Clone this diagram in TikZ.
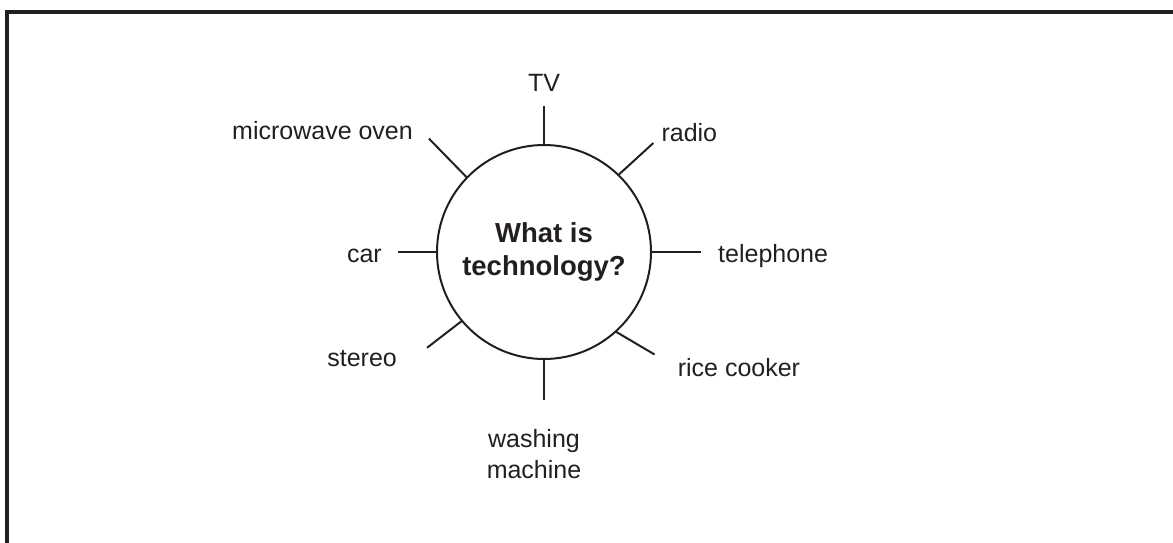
\documentclass[tikz,border=0pt]{standalone}
\usepackage{fontspec}
\setmainfont{Liberation Sans}
\usepackage{xcolor}
\usetikzlibrary{positioning,calc}
\definecolor{ink}{HTML}{231F20}
\tikzset{
  hub/.style={draw=ink, circle, line width=2pt, minimum size=214pt, inner sep=0pt,
    outer sep=0pt, align=center, text=ink, font=\fontsize{27.5}{33}\selectfont\bfseries},
  item/.style={inner sep=0pt, text=ink, align=center, font=\fontsize{25}{31}\selectfont},
  spoke/.style={draw=ink, line width=2pt},
  frame/.style={draw=ink, line width=3.5pt}
}

\begin{document}
\begin{tikzpicture}[x=1pt,y=-1pt]
  \useasboundingbox (0,0) rectangle (1173,543);
  % open frame, top and left only
  \draw[frame] (7,543) -- (7,12) -- (1173,12);

  % centre question
  \node[hub] (hub) at (544,252) {What is\\technology?};

  % spoke ends
  \coordinate (tvEnd)    at ($(hub.90)+(0,-39)$);
  \coordinate (radioEnd) at ($(hub.46)+(35,-32)$);
  \coordinate (telEnd)   at ($(hub.0)+(50,0)$);
  \coordinate (riceEnd)  at ($(hub.-48)+(39,23)$);
  \coordinate (washEnd)  at ($(hub.270)+(0,41)$);
  \coordinate (stereoEnd) at ($(hub.220)+(-35,27)$);
  \coordinate (carEnd)   at ($(hub.180)+(-39,0)$);
  \coordinate (microEnd) at ($(hub.136)+(-38,-39)$);

  \draw[spoke] (hub.90) -- (tvEnd);
  \draw[spoke] (hub.46) -- (radioEnd);
  \draw[spoke] (hub.0) -- (telEnd);
  \draw[spoke] (hub.-48) -- (riceEnd);
  \draw[spoke] (hub.270) -- (washEnd);
  \draw[spoke] (hub.220) -- (stereoEnd);
  \draw[spoke] (hub.180) -- (carEnd);
  \draw[spoke] (hub.136) -- (microEnd);

  % examples
  \node[item, anchor=base] (tv) at ([yshift=14pt]tvEnd) {TV};
  \node[item, anchor=base west] (radio) at ([xshift=8pt,yshift=2pt]radioEnd) {radio};
  \node[item, anchor=base west] (tel) at ([xshift=17pt,yshift=-10pt]telEnd) {telephone};
  \node[item, anchor=base west] (rice) at ([xshift=23pt,yshift=-22pt]riceEnd) {rice cooker};
  \node[item, anchor=north] (wash) at ([xshift=-10pt,yshift=-29pt]washEnd) {washing\\machine};
  \node[item, anchor=base east] (stereo) at ([xshift=-30pt,yshift=-19pt]stereoEnd) {stereo};
  \node[item, anchor=base east] (car) at ([xshift=-16pt,yshift=-10pt]carEnd) {car};
  \node[item, anchor=base east] (micro) at ([xshift=-16pt,yshift=-1pt]microEnd) {microwave oven};
\end{tikzpicture}
\end{document}
